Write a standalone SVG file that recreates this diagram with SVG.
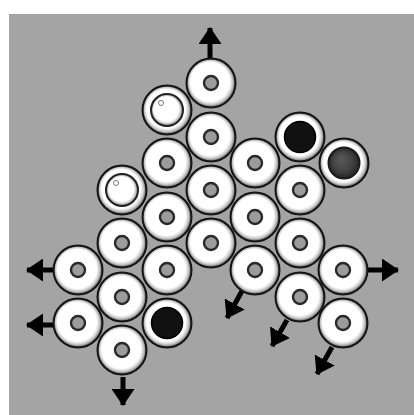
<svg xmlns="http://www.w3.org/2000/svg" xmlns:xlink="http://www.w3.org/1999/xlink" width="414" height="415" viewBox="0 0 414 415">
  <defs>
    <radialGradient id="ringGrad" cx="50%" cy="50%" r="50%" fx="40%" fy="38%">
      <stop offset="0" stop-color="#ffffff"/>
      <stop offset="0.8" stop-color="#ffffff"/>
      <stop offset="0.9" stop-color="#c8c8c8"/>
      <stop offset="1" stop-color="#505050"/>
    </radialGradient>
    <radialGradient id="whiteBall" cx="50%" cy="50%" r="50%" fx="40%" fy="38%">
      <stop offset="0" stop-color="#ffffff"/>
      <stop offset="0.78" stop-color="#ffffff"/>
      <stop offset="1" stop-color="#8a8a8a"/>
    </radialGradient>
    <radialGradient id="darkBall" cx="50%" cy="50%" r="50%" fx="38%" fy="36%">
      <stop offset="0" stop-color="#5a5a5a"/>
      <stop offset="0.6" stop-color="#444444"/>
      <stop offset="1" stop-color="#262626"/>
    </radialGradient>
    <g id="ring">
      <circle r="24.5" fill="url(#ringGrad)" stroke="#151515" stroke-width="2"/>
    </g>
    <g id="donut">
      <use xlink:href="#ring"/>
      <circle r="7" fill="#9c9c9c" stroke="#2a2a2a" stroke-width="2.4"/>
    </g>
    <g id="ballWhite">
      <use xlink:href="#ring"/>
      <circle r="16" fill="url(#whiteBall)" stroke="#222" stroke-width="2"/>
      <circle cx="-6" cy="-7" r="2.5" fill="#fff" stroke="#777" stroke-width="1"/>
    </g>
    <g id="ballBlack">
      <use xlink:href="#ring"/>
      <circle r="15.5" fill="#111" stroke="#000" stroke-width="1.5"/>
    </g>
    <g id="ballDark">
      <use xlink:href="#ring"/>
      <circle r="15.5" fill="url(#darkBall)" stroke="#1a1a1a" stroke-width="2"/>
    </g>
    <marker id="head" markerUnits="userSpaceOnUse" markerWidth="17" markerHeight="23" refX="16" refY="11.5" orient="auto">
      <path d="M0,0 L17,11.5 L0,23 Z" fill="#000"/>
    </marker>
  </defs>
  <style>
    .arrow { stroke: #000; stroke-width: 5; fill: none; marker-end: url(#head); }
  </style>

  <rect x="0" y="0" width="414" height="415" fill="#ffffff"/>
  <rect x="9" y="14" width="405" height="401" fill="#a4a4a4"/>

  <g id="connectors">
    <line class="arrow" x1="210" y1="58" x2="210" y2="28"/>
    <line class="arrow" x1="55" y1="270" x2="27" y2="270"/>
    <line class="arrow" x1="55" y1="325" x2="27" y2="325"/>
    <line class="arrow" x1="366" y1="270" x2="398" y2="270"/>
    <line class="arrow" x1="123" y1="377" x2="123" y2="405"/>
    <line class="arrow" x1="242" y1="291" x2="227" y2="318"/>
    <line class="arrow" x1="287" y1="320" x2="272" y2="346"/>
    <line class="arrow" x1="332" y1="347" x2="317" y2="374"/>
  </g>

  <g id="n-top"><use xlink:href="#donut" x="211" y="83"/></g>
  <g id="n-white1"><use xlink:href="#ballWhite" x="167" y="110"/></g>
  <g id="n-c3r2"><use xlink:href="#donut" x="211" y="137"/></g>
  <g id="n-black1"><use xlink:href="#ballBlack" x="300" y="137"/></g>
  <g id="n-dark1"><use xlink:href="#ballDark" x="344" y="163"/></g>
  <g id="n-c2r3"><use xlink:href="#donut" x="167" y="163"/></g>
  <g id="n-c4r3"><use xlink:href="#donut" x="255" y="163"/></g>
  <g id="n-white2"><use xlink:href="#ballWhite" x="122" y="190"/></g>
  <g id="n-c3r4"><use xlink:href="#donut" x="211" y="190"/></g>
  <g id="n-c5r4"><use xlink:href="#donut" x="300" y="190"/></g>
  <g id="n-c2r5"><use xlink:href="#donut" x="167" y="217"/></g>
  <g id="n-c4r5"><use xlink:href="#donut" x="255" y="217"/></g>
  <g id="n-c1r6"><use xlink:href="#donut" x="122" y="243"/></g>
  <g id="n-c3r6"><use xlink:href="#donut" x="211" y="243"/></g>
  <g id="n-c5r6"><use xlink:href="#donut" x="300" y="243"/></g>
  <g id="n-c0r7"><use xlink:href="#donut" x="78" y="270"/></g>
  <g id="n-c2r7"><use xlink:href="#donut" x="167" y="270"/></g>
  <g id="n-c4r7"><use xlink:href="#donut" x="255" y="270"/></g>
  <g id="n-c6r7"><use xlink:href="#donut" x="343" y="270"/></g>
  <g id="n-c1r8"><use xlink:href="#donut" x="122" y="297"/></g>
  <g id="n-c5r8"><use xlink:href="#donut" x="300" y="297"/></g>
  <g id="n-c0r9"><use xlink:href="#donut" x="78" y="323"/></g>
  <g id="n-black2"><use xlink:href="#ballBlack" x="167" y="323"/></g>
  <g id="n-c6r9"><use xlink:href="#donut" x="343" y="323"/></g>
  <g id="n-c1r10"><use xlink:href="#donut" x="122" y="350"/></g>
</svg>
